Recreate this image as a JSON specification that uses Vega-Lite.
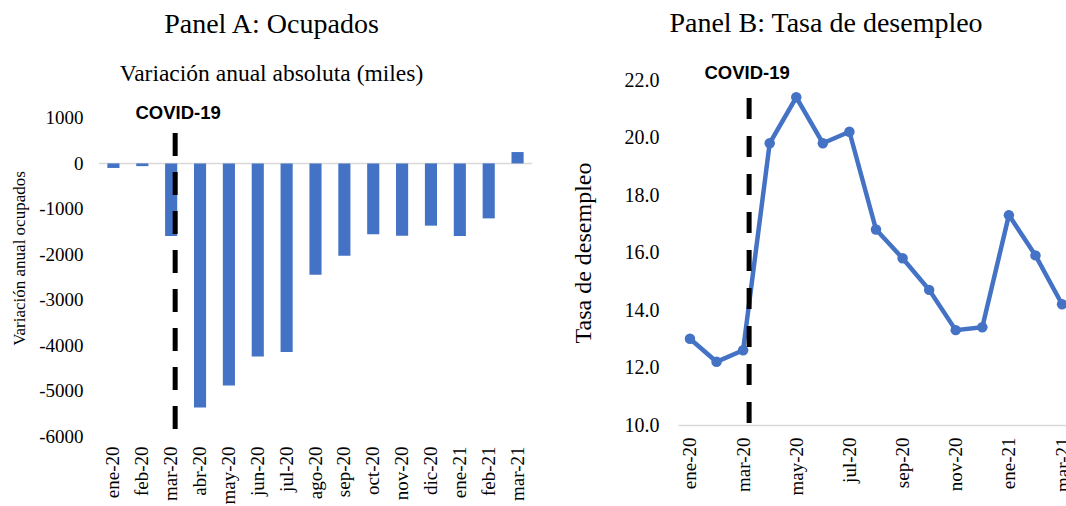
{
  "$schema": "https://vega.github.io/schema/vega-lite/v6.json",
  "padding": {"left": 10, "top": 10, "right": 0, "bottom": 0},
  "background": "white",
  "config": {
    "view": {"stroke": null},
    "font": "Liberation Serif",
    "title": {"font": "Liberation Serif", "fontSize": 28, "fontWeight": "normal", "color": "black", "subtitleFont": "Liberation Serif", "subtitleFontSize": 23.5, "subtitleColor": "black", "frame": "group", "anchor": "middle"},
    "axis": {"labelFont": "Liberation Serif", "titleFont": "Liberation Serif", "labelColor": "#000000", "titleColor": "#000000", "titleFontWeight": "normal", "grid": false, "ticks": false, "domain": false, "labelFontSize": 19}
  },
  "datasets": {
    "ocupados": [
      {"mes": "ene-20", "variacion": -100},
      {"mes": "feb-20", "variacion": -60},
      {"mes": "mar-20", "variacion": -1600},
      {"mes": "abr-20", "variacion": -5370},
      {"mes": "may-20", "variacion": -4890},
      {"mes": "jun-20", "variacion": -4250},
      {"mes": "jul-20", "variacion": -4150},
      {"mes": "ago-20", "variacion": -2450},
      {"mes": "sep-20", "variacion": -2030},
      {"mes": "oct-20", "variacion": -1560},
      {"mes": "nov-20", "variacion": -1590},
      {"mes": "dic-20", "variacion": -1370},
      {"mes": "ene-21", "variacion": -1600},
      {"mes": "feb-21", "variacion": -1210},
      {"mes": "mar-21", "variacion": 250}
    ],
    "desempleo": [
      {"mes": "ene-20", "tasa": 13.0},
      {"mes": "feb-20", "tasa": 12.2},
      {"mes": "mar-20", "tasa": 12.6},
      {"mes": "abr-20", "tasa": 19.8},
      {"mes": "may-20", "tasa": 21.4},
      {"mes": "jun-20", "tasa": 19.8},
      {"mes": "jul-20", "tasa": 20.2},
      {"mes": "ago-20", "tasa": 16.8},
      {"mes": "sep-20", "tasa": 15.8},
      {"mes": "oct-20", "tasa": 14.7},
      {"mes": "nov-20", "tasa": 13.3},
      {"mes": "dic-20", "tasa": 13.4},
      {"mes": "ene-21", "tasa": 17.3},
      {"mes": "feb-21", "tasa": 15.9},
      {"mes": "mar-21", "tasa": 14.2}
    ]
  },
  "spacing": 38,
  "hconcat": [
    {
      "width": 433,
      "height": 356,
      "title": {"text": "Panel A: Ocupados", "subtitle": "Variación anual absoluta (miles)", "offset": -5, "dx": -44, "subtitlePadding": 23},
      "data": {"name": "ocupados"},
      "layer": [
        {
          "data": {"values": [{"linea": "cero"}]},
          "mark": {"type": "rule", "color": "#D9D9D9", "strokeWidth": 1.5},
          "encoding": {"y": {"datum": 0, "type": "quantitative"}}
        },
        {
          "mark": {"type": "bar", "color": "#4472C4"},
          "encoding": {
            "x": {"field": "mes", "type": "nominal", "sort": null,
                  "scale": {"paddingInner": 0.58, "paddingOuter": 0.29},
                  "axis": {"title": null, "labelAngle": -90, "labelPadding": 10}},
            "y": {"field": "variacion", "type": "quantitative",
                  "scale": {"domain": [-6000, 1836], "nice": false},
                  "axis": {"title": "Variación anual ocupados", "titleFontSize": 17, "values": [-6000, -5000, -4000, -3000, -2000, -1000, 0, 1000], "labelExpr": "'' + datum.value", "labelPadding": 16, "titlePadding": 10}}
          }
        },
        {
          "transform": [{"filter": "datum.mes === 'mar-20'"}],
          "mark": {"type": "rule", "color": "#000000", "strokeWidth": 5, "strokeDash": [23, 16], "xOffset": 4},
          "encoding": {
            "x": {"field": "mes", "type": "nominal", "sort": null},
            "y": {"datum": 670},
            "y2": {"datum": -6000}
          }
        },
        {
          "transform": [{"filter": "datum.mes === 'mar-20'"}],
          "mark": {"type": "text", "font": "Liberation Sans", "fontWeight": "bold", "fontSize": 18.5, "baseline": "middle", "dx": 7, "color": "#000000"},
          "encoding": {
            "x": {"field": "mes", "type": "nominal", "sort": null},
            "y": {"datum": 1110},
            "text": {"value": "COVID-19"}
          }
        }
      ]
    },
    {
      "width": 396,
      "height": 345,
      "title": {"text": "Panel B: Tasa de desempleo", "offset": 26, "dx": -50},
      "data": {"name": "desempleo"},
      "layer": [
        {
          "mark": {"type": "line", "color": "#4472C4", "strokeWidth": 4.5, "point": {"filled": true, "size": 110, "color": "#4472C4"}},
          "encoding": {
            "x": {"field": "mes", "type": "ordinal", "sort": null,
                  "scale": {"type": "point", "padding": 0.45},
                  "axis": {"title": null, "labelAngle": -90, "labelPadding": 12, "domain": true, "domainColor": "#D9D9D9", "domainWidth": 1.5,
                           "values": ["ene-20", "mar-20", "may-20", "jul-20", "sep-20", "nov-20", "ene-21", "mar-21"]}},
            "y": {"field": "tasa", "type": "quantitative",
                  "scale": {"domain": [10, 22], "nice": false, "zero": false},
                  "axis": {"title": "Tasa de desempleo", "titleFontSize": 24, "labelFontSize": 20, "values": [10, 12, 14, 16, 18, 20, 22], "format": ".1f", "labelPadding": 19, "titlePadding": 29}}
          }
        },
        {
          "transform": [{"filter": "datum.mes === 'mar-20'"}],
          "mark": {"type": "rule", "color": "#000000", "strokeWidth": 5, "strokeDash": [21, 17], "xOffset": 6},
          "encoding": {
            "x": {"field": "mes", "type": "ordinal", "sort": null},
            "y": {"datum": 21.37},
            "y2": {"datum": 10}
          }
        },
        {
          "transform": [{"filter": "datum.mes === 'mar-20'"}],
          "mark": {"type": "text", "font": "Liberation Sans", "fontWeight": "bold", "fontSize": 18.5, "baseline": "middle", "dx": 4, "color": "#000000"},
          "encoding": {
            "x": {"field": "mes", "type": "ordinal", "sort": null},
            "y": {"datum": 22.24},
            "text": {"value": "COVID-19"}
          }
        }
      ]
    }
  ]
}
